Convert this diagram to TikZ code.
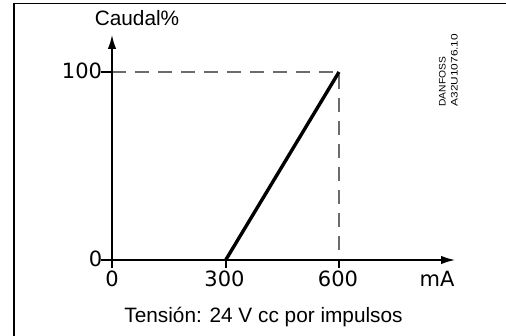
\documentclass[tikz,border=0pt]{standalone}
\usepackage{fontspec}
\setmainfont{Liberation Sans}
\newfontfamily\numfont{DejaVu Sans}
\usetikzlibrary{arrows.meta}
\begin{document}
\begin{tikzpicture}[x=1pt,y=-1pt,
  axis/.style={line width=2.6pt,-{Latex[length=15pt,width=8.5pt]}},
  tickline/.style={line width=2.4pt},
  guide/.style={line width=1.5pt,draw=black!58,dash pattern=on 14pt off 9pt},
  curve/.style={line width=3.4pt},
  frameline/.style={line width=1.4pt},
  numlabel/.style={inner sep=0pt,anchor=base,font=\numfont\fontsize{21}{24}\selectfont},
  txtlabel/.style={inner sep=0pt,anchor=base,font=\fontsize{20.8}{24}\selectfont},
  codelabel/.style={inner sep=0pt,anchor=base west,rotate=90,font=\fontsize{9.5}{11}\selectfont}]
\useasboundingbox (0,0) rectangle (506,336);
\draw[frameline] (14,336) -- (14,3.3) -- (506,3.3);
% key points
\coordinate (O) at (112,260);
\coordinate (Ytip) at (112,34);
\coordinate (Xtip) at (456,260);
\coordinate (Y100) at (112,72);
\coordinate (Y100t) at (100.5,72);
\coordinate (O0t) at (100.5,260);
\coordinate (O0b) at (112,268);
\coordinate (X300) at (225.7,260);
\coordinate (X300b) at (225.7,268);
\coordinate (X600) at (339,260);
\coordinate (X600b) at (339,268);
\coordinate (P) at (339,72);
% guides
\draw[guide] (Y100) -- (P) -- (X600);
% ticks
\draw[tickline] (Y100t) -- (Y100);
\draw[tickline] (O0t) -- (O);
\draw[tickline] (O) -- (O0b);
\draw[tickline] (X300) -- (X300b);
\draw[tickline] (X600) -- (X600b);
% axes
\draw[axis] (O) -- (Ytip);
\draw[axis] (O) -- (Xtip);
% characteristic
\draw[curve] (X300) -- (P);
% labels
\node[txtlabel] (caudal) at (137,26) {Caudal\%};
\node[numlabel] (l100) at (82,78.3) {100};
\node[numlabel] (l0y) at (95.5,267) {0};
\node[numlabel] (l0x) at (112,286.5) {0};
\node[numlabel] (l300) at (224.5,286.5) {300};
\node[numlabel] (l600) at (338,287) {600};
\node[numlabel] (lmA) at (437,287) {mA};
\node[txtlabel] (tension) at (263.5,322.7) {Tensión: 24 V cc por impulsos};
\node[codelabel] (danfoss) at (445.5,106.7) {\scalebox{1.08}[1]{DANFOSS}};
\node[codelabel] (code) at (457.5,106.7) {\scalebox{1.25}[1]{A32U1076.10}};
\end{tikzpicture}
\end{document}
